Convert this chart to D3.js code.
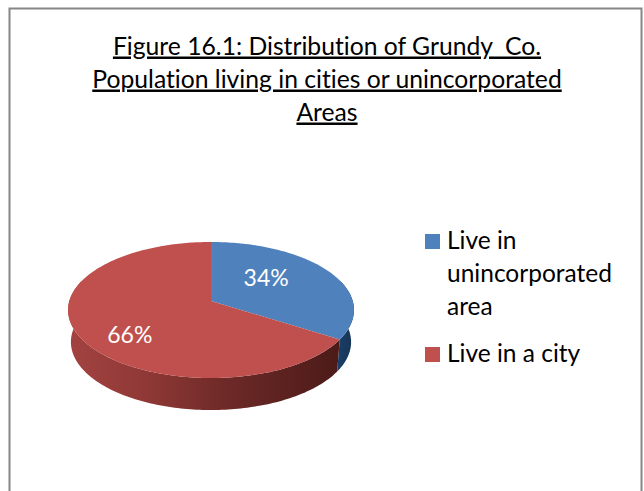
<!DOCTYPE html>
<html>
<head>
<meta charset="utf-8">
<script src="https://cdn.jsdelivr.net/npm/d3@7"></script>
<style>
    html, body { margin: 0; padding: 0; background: #fff; }
    svg { display: block; }
    text { font-family: Lato, "Open Sans", sans-serif; font-variant-ligatures: none; }
</style>
</head>
<body>
<div id="chart"></div>
<script>
let titleLines = ['Figure 16.1: Distribution of Grundy  Co.', 'Population living in cities or unincorporated', 'Areas']
let categories = ['Live in unincorporated area', 'Live in a city']
let legendLines = [['Live in', 'unincorporated', 'area'], ['Live in a city']]
let values = [34, 66]
let topColors = ['#4f81bd', '#c0504d']

let width = 644, height = 491

let svg = d3.select('#chart').append('svg')
    .attr('width', width)
    .attr('height', height)

// frame runs off the bottom of the picture
svg.append('rect')
    .attr('x', 9.5)
    .attr('y', 8.5)
    .attr('width', 632)
    .attr('height', 500)
    .attr('fill', '#fff')
    .attr('stroke', '#868686')
    .attr('stroke-width', 2)

let title = svg.append('g')

title.selectAll('text')
    .data(titleLines)
    .enter().append('text')
    .attr('x', 327)
    .attr('y', function(d, i){ return 54.5 + i * 33 })
    .attr('text-anchor', 'middle')
    .attr('font-size', 24.7)
    .attr('fill', '#000')
    .attr('text-decoration', 'underline')
    .style('white-space', 'pre')
    .text(function(d){ return d })

// tilted pie: unit circle pushed through a perspective map
let cx = 211, k = -0.132, faceA = 27.1, faceB = 301, faceC = 141.7
let depth = 32, bottomShrink = 0.98

function project(u, v, shrink, drop){
    let w = 1 + k * v
    return [cx + faceC * shrink * u / w, (faceA * v + faceB) / w + drop]
}

function rim(a0, a1, shrink, drop){
    let n = Math.max(2, Math.ceil(Math.abs(a1 - a0) / 0.02))
    return d3.range(n + 1).map(function(i){
        let a = a0 + (a1 - a0) * i / n
        return project(Math.sin(a), -Math.cos(a), shrink, drop)
    })
}

let pie = d3.pie().sort(null).value(function(d){ return d })
let slices = pie(values)
let line = d3.line()

let defs = svg.append('defs')

let wallStops = [
    [[0, '#1b3f68'], [1, '#163354']],
    [[0, '#a34341'], [0.3, '#8e3835'], [0.6, '#6c2927'], [1, '#4c1b18']]
]

slices.forEach(function(s, i){
    let grad = defs.append('linearGradient')
        .attr('id', 'wall' + i)
        .attr('gradientUnits', 'userSpaceOnUse')
        .attr('x1', i == 0 ? 338 : 68)
        .attr('x2', i == 0 ? 354 : 338)
        .attr('y1', 0)
        .attr('y2', 0)

    wallStops[i].forEach(function(st){
        grad.append('stop').attr('offset', st[0]).attr('stop-color', st[1])
    })
})

// walls first, the top face hides whatever is at the back
let frontFrom = Math.PI * 0.4, frontTo = Math.PI * 1.6

slices.forEach(function(s, i){
    let a0 = Math.max(s.startAngle, frontFrom)
    let a1 = Math.min(s.endAngle, frontTo)
    let pts = rim(a0, a1, 1, 0).concat(rim(a1, a0, bottomShrink, depth))

    svg.append('path')
        .attr('d', line(pts) + 'Z')
        .attr('fill', 'url(#wall' + i + ')')
})

slices.forEach(function(s, i){
    let pts = [project(0, 0, 1, 0)].concat(rim(s.startAngle, s.endAngle, 1, 0))

    svg.append('path')
        .attr('d', line(pts) + 'Z')
        .attr('fill', topColors[i])
})

let labelRadius = [0.5, 0.65], labelDrop = [1, 20], labelShift = [-5, 3]

slices.forEach(function(s, i){
    let mid = (s.startAngle + s.endAngle) / 2
    let p = project(labelRadius[i] * Math.sin(mid), -labelRadius[i] * Math.cos(mid), 1, 0)

    svg.append('text')
        .attr('x', p[0] + labelShift[i])
        .attr('y', p[1] + labelDrop[i])
        .attr('text-anchor', 'middle')
        .attr('font-size', 23)
        .attr('fill', '#fff')
        .text(values[i] + '%')
})

// legend
let swatchTop = [234, 347], lineStep = 33

categories.forEach(function(c, i){
    let g = svg.append('g').attr('transform', 'translate(425,' + swatchTop[i] + ')')

    g.append('rect')
        .attr('width', 15)
        .attr('height', 15)
        .attr('fill', topColors[i])

    g.selectAll('text')
        .data(legendLines[i])
        .enter().append('text')
        .attr('x', 22)
        .attr('y', function(d, j){ return 15 + j * lineStep })
        .attr('font-size', 24.5)
        .attr('fill', '#000')
        .text(function(d){ return d })
})
</script>
</body>
</html>
